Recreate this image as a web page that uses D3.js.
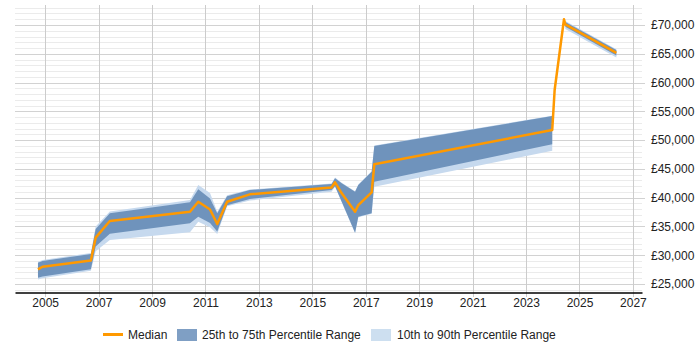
<!DOCTYPE html>
<html>
<head>
<meta charset="utf-8">
<script src="https://cdn.jsdelivr.net/npm/d3@7"></script>
<style>
  body { margin: 0; background: #fff; }
  text { font-family: "Liberation Sans", Arial, sans-serif; }
</style>
</head>
<body>
<svg id="chart"></svg>
<script>
// chart values (null = no band drawn there)
const years  = [2004.73, 2004.9, 2006.71, 2006.89, 2007.42, 2010.42, 2010.73, 2011.17, 2011.44, 2011.81, 2012.66, 2015.72, 2015.85, 2016.1, 2016.6, 2016.72, 2017.22, 2017.32, 2023.98, 2024.07, 2024.42, 2024.47, 2026.38];
const p10    = [25800, 26000, 27300, 30700, 32650, 33980, 35800, 34850, 33700, 38500, 39500, 41030, 41900, 39200, 33800, 36600, 37200, 41900, 48150, null, null, 69300, 64350];
const p25    = [26100, 26300, 27550, 31500, 33750, 35550, 36700, 35600, 34100, 38700, 39770, 41330, 42000, 39300, 33900, 36700, 37280, 42780, 49270, null, null, 69700, 64700];
const median = [27550, 28000, 29100, 33050, 35950, 37560, 39300, 37950, 35420, 39300, 40580, 41760, 42670, 40760, 37560, 38720, 40930, 45800, 51750, 58700, 71000, 70100, 65150];
const p75    = [28700, 29000, 30200, 34550, 37300, 39200, 41450, 39850, 37280, 40240, 41330, 42370, 43360, 42500, 41030, 42200, 44520, 48970, 54190, null, null, 70500, 65650];
const p90    = [28850, 29150, 30400, 35000, 37600, 39600, 42200, 40800, 37560, 40400, 41400, 42450, 43500, 42600, 41100, 42300, 44600, 49050, 54250, null, null, 70700, 65800];

const xTicks = [2005, 2007, 2009, 2011, 2013, 2015, 2017, 2019, 2021, 2023, 2025, 2027];
const yTicks = [25000, 30000, 35000, 40000, 45000, 50000, 55000, 60000, 65000, 70000];
const legendItems = ["Median", "25th to 75th Percentile Range", "10th to 90th Percentile Range"];

width = 700;
height = 350;

const data = years.map((y, i) => ({
  year: y, p10: p10[i], p25: p25[i], med: median[i], p75: p75[i], p90: p90[i]
}));

const svg = d3.select("#chart")
  .attr("width", width)
  .attr("height", height);

const x = d3.scaleLinear().domain([2003.87, 2027.34]).range([15, 642]);
const y = d3.scaleLinear().domain([23610, 73475]).range([292, 5]);

// minor horizontal grid every 1000
svg.append("g")
  .selectAll("line")
  .data(d3.range(24000, 73001, 1000).filter(v => v % 5000 != 0))
  .enter()
  .append("line")
  .attr("x1", 15).attr("x2", 642)
  .attr("y1", d => Math.round(y(d)) + 0.5)
  .attr("y2", d => Math.round(y(d)) + 0.5)
  .attr("stroke", "#ebebeb");

// major horizontal grid
svg.append("g")
  .selectAll("line")
  .data(yTicks)
  .enter()
  .append("line")
  .attr("x1", 15).attr("x2", 645)
  .attr("y1", d => Math.round(y(d)) + 0.5)
  .attr("y2", d => Math.round(y(d)) + 0.5)
  .attr("stroke", "#d2d2d2");

// vertical grid (odd years)
svg.append("g")
  .selectAll("line")
  .data(xTicks)
  .enter()
  .append("line")
  .attr("x1", d => Math.round(x(d)) + 0.5)
  .attr("x2", d => Math.round(x(d)) + 0.5)
  .attr("y1", 5).attr("y2", 297)
  .attr("stroke", "#cccccc");

// bands
const outer = d3.area()
  .defined(d => d.p10 != null)
  .x(d => x(d.year))
  .y0(d => y(d.p10))
  .y1(d => y(d.p90));

const inner = d3.area()
  .defined(d => d.p25 != null)
  .x(d => x(d.year))
  .y0(d => y(d.p25))
  .y1(d => y(d.p75));

svg.append("path").datum(data)
  .attr("d", outer)
  .attr("fill", "#c6d9ee");

svg.append("path").datum(data)
  .attr("d", inner)
  .attr("fill", "#6f93bc");

// median line
svg.append("path").datum(data)
  .attr("d", d3.line().x(d => x(d.year)).y(d => y(d.med)))
  .attr("fill", "none")
  .attr("stroke", "#ff9900")
  .attr("stroke-width", 2.5)
  .attr("stroke-linejoin", "round");

// x axis
const xAxis = svg.append("g")
  .attr("transform", "translate(0,292.5)")
  .call(d3.axisBottom(x).tickValues(xTicks).tickFormat(d3.format("d")).tickSize(0).tickSizeOuter(0).tickPadding(6));
xAxis.select(".domain").attr("stroke", "#000").attr("stroke-width", 1.3);
xAxis.selectAll("text").attr("font-size", 12).attr("fill", "#222");

// y axis labels on the right
const yAxis = svg.append("g")
  .attr("transform", "translate(642,0)")
  .call(d3.axisRight(y).tickValues(yTicks).tickFormat(d => "£" + d3.format(",")(d)).tickSize(0).tickPadding(9));
yAxis.select(".domain").remove();
yAxis.selectAll("text").attr("font-size", 12).attr("fill", "#222");

// legend
const legend = svg.append("g");
legend.append("line")
  .attr("x1", 103).attr("x2", 123).attr("y1", 334.5).attr("y2", 334.5)
  .attr("stroke", "#ff9900").attr("stroke-width", 3);
legend.append("text").attr("x", 128).attr("y", 338.5).text(legendItems[0]);
legend.append("rect")
  .attr("x", 177).attr("y", 329).attr("width", 20).attr("height", 12)
  .attr("fill", "#7f9fc4");
legend.append("text").attr("x", 202).attr("y", 338.5).text(legendItems[1]);
legend.append("rect")
  .attr("x", 371).attr("y", 329).attr("width", 20).attr("height", 12)
  .attr("fill", "#cddff0");
legend.append("text").attr("x", 397).attr("y", 338.5).text(legendItems[2]);
legend.selectAll("text").attr("font-size", 12).attr("fill", "#222");
</script>
</body>
</html>
